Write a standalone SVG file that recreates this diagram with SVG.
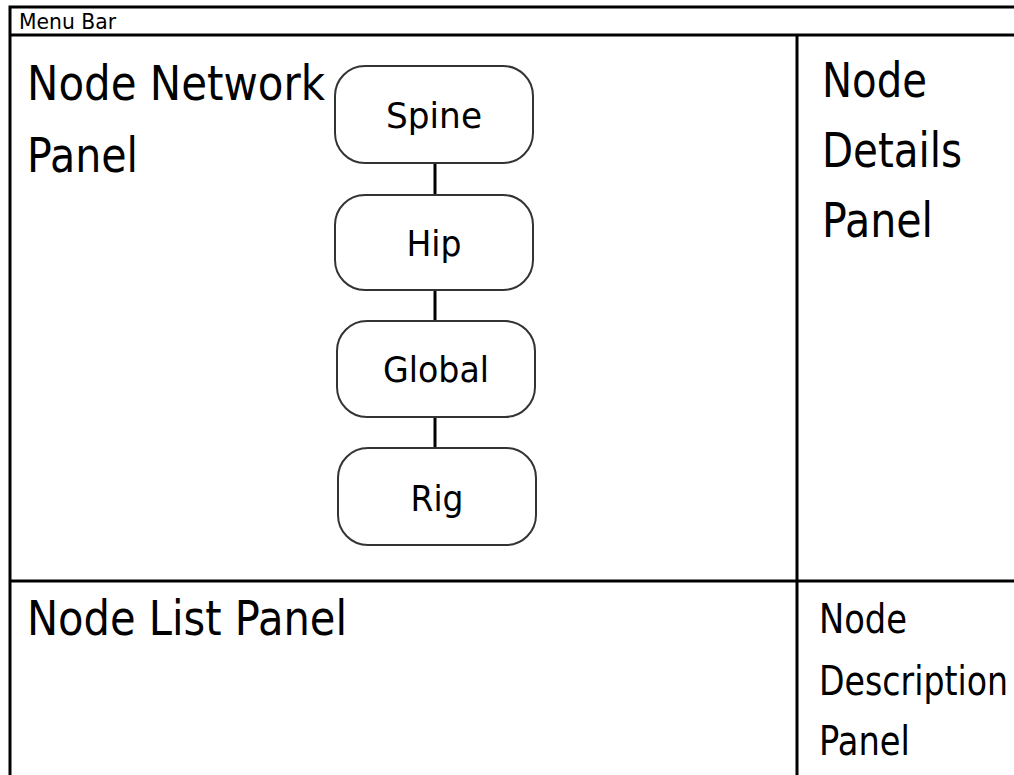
<svg xmlns="http://www.w3.org/2000/svg" width="1014" height="775" viewBox="0 0 1014 775">
<style>
.frame{stroke:#000;stroke-width:3;fill:none}
.node{fill:#fff;stroke:#333;stroke-width:2}
.conn{stroke:#000;stroke-width:3;fill:none}
text{font-family:"DejaVu Sans","Liberation Sans",sans-serif;fill:#000}
.big{font-size:48px}
.mid{font-size:40px}
.lbl{font-size:36px;text-anchor:middle}
.small{font-size:21px}
</style>
<rect width="1014" height="775" fill="#fff"/>
<g id="frame">
<path class="frame" d="M10,775 V7 H1014 M10,35 H1014 M797,35 V775 M10,581 H1014"/>
</g>
<g id="menu-bar"><text class="small" x="19" y="29" textLength="97" lengthAdjust="spacingAndGlyphs">Menu Bar</text></g>
<g id="node-network-panel">
<text class="big" x="27" y="100" textLength="298" lengthAdjust="spacingAndGlyphs">Node Network</text>
<text class="big" x="27" y="172" textLength="111" lengthAdjust="spacingAndGlyphs">Panel</text>
</g>
<g id="node-details-panel">
<text class="big" x="822" y="97" textLength="105" lengthAdjust="spacingAndGlyphs">Node</text>
<text class="big" x="822" y="167" textLength="140" lengthAdjust="spacingAndGlyphs">Details</text>
<text class="big" x="822" y="237" textLength="111" lengthAdjust="spacingAndGlyphs">Panel</text>
</g>
<g id="node-list-panel">
<text class="big" x="27" y="635" textLength="320" lengthAdjust="spacingAndGlyphs">Node List Panel</text>
</g>
<g id="node-description-panel">
<text class="mid" x="819" y="633" textLength="88" lengthAdjust="spacingAndGlyphs">Node</text>
<text class="mid" transform="translate(819,695) scale(0.83,1)" x="0" y="0">Description</text>
<text class="mid" x="819" y="755" textLength="91" lengthAdjust="spacingAndGlyphs">Panel</text>
</g>
<g id="connectors">
<line class="conn" x1="435" y1="163" x2="435" y2="195"/>
<line class="conn" x1="435" y1="290" x2="435" y2="321"/>
<line class="conn" x1="435" y1="417" x2="435" y2="448"/>
</g>
<g id="node-spine">
<rect class="node" x="335" y="66" width="198" height="97" rx="30" ry="30"/>
<text class="lbl" x="434" y="128" textLength="96" lengthAdjust="spacingAndGlyphs">Spine</text>
</g>
<g id="node-hip">
<rect class="node" x="335" y="195" width="198" height="95" rx="30" ry="30"/>
<text class="lbl" x="434" y="256" textLength="55" lengthAdjust="spacingAndGlyphs">Hip</text>
</g>
<g id="node-global">
<rect class="node" x="337" y="321" width="198" height="96" rx="30" ry="30"/>
<text class="lbl" x="436" y="382" textLength="106" lengthAdjust="spacingAndGlyphs">Global</text>
</g>
<g id="node-rig">
<rect class="node" x="338" y="448" width="198" height="97" rx="30" ry="30"/>
<text class="lbl" x="437" y="511" textLength="53" lengthAdjust="spacingAndGlyphs">Rig</text>
</g>
</svg>
